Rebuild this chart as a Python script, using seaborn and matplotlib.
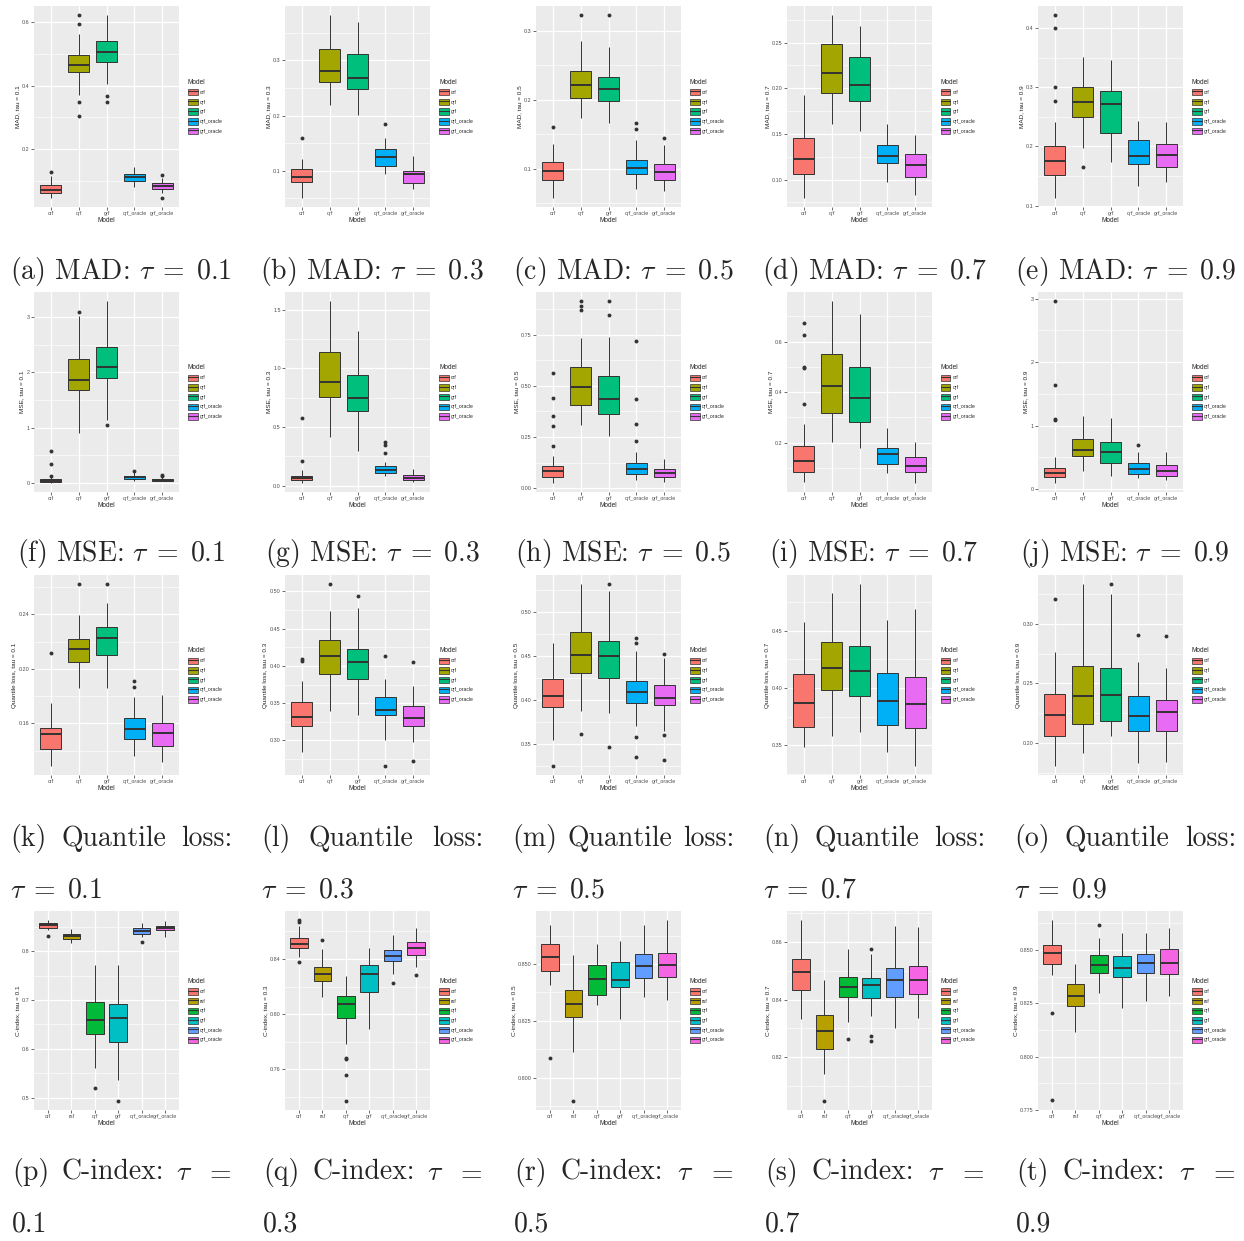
import matplotlib
matplotlib.use('Agg')
import numpy as np
import pandas as pd
import matplotlib.pyplot as plt
import seaborn as sns
from matplotlib.patches import Patch
from matplotlib.lines import Line2D
from matplotlib.ticker import FixedLocator

# Models and ggplot hue colours
MODELS_5 = ['crf', 'qrf', 'grf', 'qrf_oracle', 'grf_oracle']
MODELS_6 = ['crf', 'rsf', 'qrf', 'grf', 'qrf_oracle', 'grf_oracle']
PAL_5 = ['#F8766D', '#A3A500', '#00BF7D', '#00B0F6', '#E76BF3']
PAL_6 = ['#F8766D', '#B79F00', '#00BA38', '#00BFC4', '#619CFF', '#F564E3']
TAUS = ['0.1', '0.3', '0.5', '0.7', '0.9']

# Box summaries: [whisker low, q1, median, q3, whisker high] per model
mad_01 = [[0.047, 0.062, 0.073, 0.088, 0.115], [0.372, 0.443, 0.465, 0.495, 0.563], [0.404, 0.475, 0.507, 0.540, 0.622],
          [0.081, 0.099, 0.112, 0.123, 0.144], [0.062, 0.075, 0.083, 0.093, 0.108]]
mad_03 = [[0.051, 0.0795, 0.088, 0.103, 0.121], [0.219, 0.260, 0.281, 0.320, 0.382], [0.202, 0.249, 0.269, 0.311, 0.370],
          [0.094, 0.108, 0.125, 0.139, 0.159], [0.067, 0.078, 0.0945, 0.100, 0.127]]
mad_05 = [[0.0575, 0.0836, 0.097, 0.110, 0.136], [0.174, 0.2025, 0.222, 0.2415, 0.2855], [0.166, 0.1976, 0.2155, 0.2333, 0.277],
          [0.0705, 0.0928, 0.1005, 0.1126, 0.1415], [0.067, 0.084, 0.0947, 0.1063, 0.135]]
mad_07 = [[0.080, 0.1066, 0.123, 0.1453, 0.1927], [0.161, 0.195, 0.217, 0.248, 0.280], [0.153, 0.1858, 0.2036, 0.2347, 0.268],
          [0.0974, 0.1186, 0.1255, 0.138, 0.1606], [0.083, 0.103, 0.116, 0.1285, 0.1485]]
mad_09 = [[0.113, 0.152, 0.176, 0.200, 0.242], [0.197, 0.249, 0.275, 0.300, 0.352], [0.174, 0.223, 0.271, 0.294, 0.346],
          [0.133, 0.171, 0.183, 0.211, 0.243], [0.140, 0.166, 0.185, 0.2045, 0.242]]
mad_01_out = [[0.127], [0.621, 0.595, 0.349, 0.306], [0.367, 0.349], [], [0.118, 0.048]]
mad_03_out = [[0.159], [], [], [0.185], []]
mad_05_out = [[0.160], [0.323], [0.323], [0.166, 0.158], [0.145]]
mad_07_out = [[], [], [], [], []]
mad_09_out = [[0.422, 0.400, 0.300, 0.276], [0.166], [], [], []]

mse_01 = [[0.0, 0.018, 0.042, 0.079, 0.10], [0.90, 1.69, 1.86, 2.24, 3.02], [1.13, 1.90, 2.105, 2.46, 3.29],
          [0.04, 0.073, 0.103, 0.133, 0.19], [0.03, 0.042, 0.06, 0.079, 0.115]]
mse_03 = [[0.023, 0.046, 0.069, 0.086, 0.132], [0.413, 0.76, 0.883, 1.14, 1.574], [0.293, 0.634, 0.751, 0.944, 1.316],
          [0.08, 0.106, 0.135, 0.169, 0.198], [0.029, 0.046, 0.069, 0.089, 0.138]]
mse_05 = [[0.025, 0.0525, 0.084, 0.110, 0.159], [0.307, 0.407, 0.4926, 0.593, 0.736], [0.253, 0.3645, 0.435, 0.548, 0.742],
          [0.039, 0.0706, 0.092, 0.123, 0.176], [0.031, 0.0558, 0.072, 0.0936, 0.143]]
mse_07 = [[0.045, 0.086, 0.1285, 0.1854, 0.2755], [0.2026, 0.319, 0.4225, 0.551, 0.760], [0.181, 0.283, 0.376, 0.498, 0.71],
          [0.081, 0.115, 0.1536, 0.181, 0.2596], [0.041, 0.0848, 0.106, 0.1417, 0.204]]
mse_09 = [[0.10, 0.194, 0.263, 0.342, 0.51], [0.289, 0.525, 0.61, 0.793, 1.15], [0.21, 0.42, 0.589, 0.736, 1.124],
          [0.184, 0.236, 0.32, 0.42, 0.589], [0.147, 0.215, 0.294, 0.384, 0.589]]
mse_01_out = [[0.57, 0.35, 0.12], [3.10], [1.05], [0.22], [0.15, 0.13]]
mse_03_out = [[0.576, 0.209], [], [], [0.275, 0.347, 0.37], []]
mse_05_out = [[0.563, 0.44, 0.353, 0.302, 0.204], [0.916, 0.89, 0.87], [0.916, 0.846], [0.722, 0.435, 0.312, 0.228], []]
mse_07_out = [[0.674, 0.624, 0.5, 0.494, 0.352], [], [], [], []]
mse_09_out = [[2.96, 1.634, 1.109, 1.088], [], [], [0.70], []]

ql_01 = [[0.1288, 0.141, 0.1524, 0.1568, 0.1751], [0.1861, 0.2049, 0.2149, 0.2222, 0.2395], [0.1863, 0.2102, 0.2227, 0.2305, 0.2483],
         [0.1363, 0.1485, 0.1559, 0.1637, 0.1795], [0.1317, 0.1432, 0.1527, 0.16, 0.181]]
ql_03 = [[0.284, 0.319, 0.332, 0.352, 0.38], [0.34, 0.3898, 0.4129, 0.4347, 0.4742], [0.3338, 0.3818, 0.4053, 0.4231, 0.4778],
         [0.30, 0.3338, 0.3409, 0.3587, 0.3831], [0.2973, 0.3187, 0.3307, 0.3467, 0.3729]]
ql_05 = [[0.3545, 0.3921, 0.4041, 0.4233, 0.4643], [0.3872, 0.4308, 0.4511, 0.4771, 0.5312], [0.3846, 0.4252, 0.4492, 0.4665, 0.5229],
         [0.3707, 0.397, 0.4094, 0.4218, 0.4556], [0.3647, 0.3947, 0.4026, 0.4173, 0.4477]]
ql_07 = [[0.3483, 0.3657, 0.3871, 0.4123, 0.4575], [0.3584, 0.3987, 0.4172, 0.4399, 0.4833], [0.3616, 0.3929, 0.4152, 0.437, 0.4909],
         [0.3442, 0.3674, 0.3891, 0.4135, 0.4599], [0.332, 0.3654, 0.3859, 0.4094, 0.4691]]
ql_09 = [[0.1808, 0.2061, 0.2237, 0.2412, 0.276], [0.1919, 0.2156, 0.2396, 0.2643, 0.3334], [0.2061, 0.2187, 0.2407, 0.2632, 0.3251],
         [0.183, 0.21, 0.2231, 0.2398, 0.2677], [0.1838, 0.21, 0.2262, 0.2362, 0.2627]]
ql_01_out = [[0.2117], [0.2622], [0.2622], [0.191, 0.1866], []]
ql_03_out = [[0.409, 0.407], [0.5098], [0.4942], [0.4129, 0.2658], [0.4049, 0.272]]
ql_05_out = [[0.3252], [0.3609], [0.5312, 0.3466], [0.47, 0.4639, 0.3575, 0.335], [0.4523, 0.3602, 0.332]]
ql_07_out = [[], [], [], [], []]
ql_09_out = [[0.3206], [], [0.3334], [0.2903], [0.29]]

ci_01 = [[0.8425, 0.8466, 0.8527, 0.8575, 0.8637], [0.8158, 0.8253, 0.8308, 0.8356, 0.8459], [0.5616, 0.6301, 0.6596, 0.6952, 0.7712],
         [0.537, 0.613, 0.6637, 0.6911, 0.7712], [0.8288, 0.8356, 0.8411, 0.8473, 0.8575], [0.8288, 0.8425, 0.8473, 0.8521, 0.8616]]
ci_03 = [[0.8414, 0.848, 0.8511, 0.8552, 0.8636], [0.8125, 0.8239, 0.8292, 0.8342, 0.847], [0.7781, 0.7969, 0.807, 0.813, 0.8275],
         [0.7892, 0.8161, 0.8292, 0.8359, 0.8482], [0.8294, 0.8386, 0.8424, 0.8467, 0.8576], [0.8342, 0.8431, 0.8482, 0.8525, 0.8627]]
ci_05 = [[0.8409, 0.8471, 0.8529, 0.8588, 0.8671], [0.8112, 0.8265, 0.8324, 0.8384, 0.854], [0.8318, 0.8363, 0.8435, 0.8497, 0.8588],
         [0.826, 0.8397, 0.8429, 0.8509, 0.86], [0.8357, 0.8438, 0.849, 0.8544, 0.8674], [0.8343, 0.8444, 0.8497, 0.8549, 0.8694]]
ci_07 = [[0.8334, 0.8434, 0.8495, 0.8542, 0.8677], [0.8143, 0.8227, 0.8291, 0.8347, 0.8469], [0.8323, 0.841, 0.8445, 0.8479, 0.8576],
         [0.8342, 0.8407, 0.8451, 0.8476, 0.856], [0.8301, 0.841, 0.8467, 0.851, 0.8656], [0.8338, 0.842, 0.847, 0.8517, 0.8652]]
ci_09 = [[0.8383, 0.8433, 0.8486, 0.8523, 0.8641], [0.8116, 0.8236, 0.8286, 0.8341, 0.8434], [0.8297, 0.8392, 0.843, 0.8475, 0.8556],
         [0.823, 0.8372, 0.8414, 0.8472, 0.8581], [0.8263, 0.8392, 0.8439, 0.8483, 0.8581], [0.8286, 0.8386, 0.8439, 0.8506, 0.8605]]
ci_01_out = [[0.8315], [], [0.5205], [0.4932], [0.8185], []]
ci_03_out = [[0.8682, 0.8667, 0.8376], [0.8537], [0.7684, 0.7675, 0.7559, 0.7371], [], [0.8229], [0.8287]]
ci_05_out = [[0.8087], [0.7897], [], [], [], []]
ci_07_out = [[], [0.8048], [0.8264], [0.8578, 0.8273, 0.8257], [], []]
ci_09_out = [[0.8205, 0.7795], [], [0.8619], [], [], []]

# y tick labels per panel
mad_ticks = [['0.2', '0.4', '0.6'], ['0.1', '0.2', '0.3'], ['0.1', '0.2', '0.3'],
             ['0.10', '0.15', '0.20', '0.25'], ['0.1', '0.2', '0.3', '0.4']]
mse_ticks = [['0', '1', '2', '3'], ['0.0', '0.5', '1.0', '1.5'], ['0.00', '0.25', '0.50', '0.75'],
             ['0.2', '0.4', '0.6'], ['0', '1', '2', '3']]
ql_ticks = [['0.16', '0.20', '0.24'], ['0.30', '0.35', '0.40', '0.45', '0.50'], ['0.35', '0.40', '0.45', '0.50'],
            ['0.35', '0.40', '0.45'], ['0.20', '0.25', '0.30']]
ci_ticks = [['0.5', '0.6', '0.7', '0.8'], ['0.76', '0.80', '0.84'], ['0.800', '0.825', '0.850'],
            ['0.82', '0.84', '0.86'], ['0.775', '0.800', '0.825', '0.850']]

ROWS = [
    ('MAD', MODELS_5, PAL_5, [mad_01, mad_03, mad_05, mad_07, mad_09],
     [mad_01_out, mad_03_out, mad_05_out, mad_07_out, mad_09_out], mad_ticks),
    ('MSE', MODELS_5, PAL_5, [mse_01, mse_03, mse_05, mse_07, mse_09],
     [mse_01_out, mse_03_out, mse_05_out, mse_07_out, mse_09_out], mse_ticks),
    ('Quantile loss', MODELS_5, PAL_5, [ql_01, ql_03, ql_05, ql_07, ql_09],
     [ql_01_out, ql_03_out, ql_05_out, ql_07_out, ql_09_out], ql_ticks),
    ('C-index', MODELS_6, PAL_6, [ci_01, ci_03, ci_05, ci_07, ci_09],
     [ci_01_out, ci_03_out, ci_05_out, ci_07_out, ci_09_out], ci_ticks),
]

# layout (pixels)
W, H = 1244, 1241
COL_OFF = [0, 251, 502, 753, 1004]
ROW_Y = [(6, 207), (292, 492), (575, 775), (911, 1110)]
DARK = '#333333'
CAP_SIZE = 20

sns.set_theme(style='darkgrid', rc={'axes.facecolor': '#EBEBEB', 'grid.color': 'white',
                                    'axes.edgecolor': '#EBEBEB'})
plt.rcParams['font.family'] = ['Liberation Sans', 'DejaVu Sans']
plt.rcParams['mathtext.fontset'] = 'cm'

fig = plt.figure(figsize=(W / 100, H / 100), dpi=100)


def expand(models, stats):
    # turn each 5-number summary into a sample whose quartiles are exactly those values
    rows = []
    for m, (lo, q1, med, q3, hi) in zip(models, stats):
        vals = [lo] + [q1] * 20 + [med] * 20 + [q3] * 20 + [hi]
        rows += [(m, v) for v in vals]
    return pd.DataFrame(rows, columns=['Model', 'value'])


def draw_panel(ax, models, colors, stats, fliers, ticks, ylabel):
    pal = dict(zip(models, colors))
    df = expand(models, stats)
    sns.boxplot(data=df, x='Model', y='value', hue='Model', order=models, hue_order=models,
                palette=pal, whis=(0, 100), showfliers=False, showcaps=False, width=0.75,
                linecolor=DARK, linewidth=0.7, medianprops=dict(linewidth=1.4),
                saturation=1, legend=False, ax=ax)
    out = pd.DataFrame([(m, v) for m, vs in zip(models, fliers) for v in vs], columns=['Model', 'value'])
    if len(out):
        sns.stripplot(data=out, x='Model', y='value', order=models, jitter=False,
                      color=DARK, size=2.8, linewidth=0, ax=ax)

    allv = [v for s in stats for v in s] + [v for f in fliers for v in f]
    lo, hi = min(allv), max(allv)
    pad = 0.05 * (hi - lo)
    ax.set_xlim(-0.6, len(models) - 0.4)
    ax.set_ylim(lo - pad, hi + pad)
    tv = [float(t) for t in ticks]
    ax.set_yticks(tv, ticks)
    step = tv[1] - tv[0]
    minors = [t - step / 2 for t in tv] + [tv[-1] + step / 2]
    ax.yaxis.set_minor_locator(FixedLocator([m for m in minors if lo - pad < m < hi + pad]))
    ax.grid(which='major', color='white', linewidth=0.9)
    ax.yaxis.grid(which='minor', color='white', linewidth=0.45)
    ax.xaxis.grid(True, which='major', color='white', linewidth=0.9)
    ax.set_axisbelow(True)
    for s in ax.spines.values():
        s.set_visible(False)
    ax.tick_params(which='major', length=2, width=0.5, color=DARK, labelsize=3.9,
                   labelcolor='#4D4D4D', pad=1, left=True, bottom=True)
    ax.tick_params(which='minor', length=0)
    ax.set_xlabel('Model', fontsize=4.7, labelpad=0.5)
    ax.set_ylabel(ylabel, fontsize=4.6, labelpad=1.5)

    handles = [(Patch(facecolor=c, edgecolor=DARK, linewidth=0.5), Line2D([], [], color=DARK, linewidth=0.8))
               for c in colors]
    ax.legend(handles, models, title='Model', loc='center left', bbox_to_anchor=(1 + 9 / 145, 0.5),
              frameon=False, fontsize=3.6, title_fontsize=4.7, handlelength=1.9, handleheight=1.6,
              labelspacing=0.65, handletextpad=0.4, borderpad=0, borderaxespad=0, alignment='left')


def put_justified(words, x0, x1, y):
    arts = [fig.text(0, 1 - y / H, w, fontsize=CAP_SIZE, family='cmr10', va='baseline') for w in words]
    r = fig.canvas.get_renderer()
    widths = [a.get_window_extent(r).width for a in arts]
    gap = (x1 - x0 - sum(widths)) / (len(arts) - 1)
    x = x0
    for a, w in zip(arts, widths):
        a.set_x(x / W)
        x += w + gap


letters = 'abcdefghijklmnopqrst'
for r, (metric, models, colors, stats_row, fliers_row, ticks_row) in enumerate(ROWS):
    top, bottom = ROW_Y[r]
    for c in range(5):
        left = COL_OFF[c] + 34
        ax = fig.add_axes([left / W, 1 - bottom / H, 145 / W, (bottom - top) / H])
        draw_panel(ax, models, colors, stats_row[c], fliers_row[c], ticks_row[c],
                   f'{metric}, tau = {TAUS[c]}')

        # sub-captions
        letter = letters[r * 5 + c]
        x0, x1 = COL_OFF[c] + 10, COL_OFF[c] + 232
        if r < 2:
            base = [279, 561][r]
            fig.text((x0 + x1) / 2 / W, 1 - base / H, f'({letter}) {metric}: $\\tau\\;=\\;{TAUS[c]}$',
                     fontsize=CAP_SIZE, family='cmr10', ha='center', va='baseline')
        elif r == 2:
            put_justified([f'({letter})', 'Quantile', 'loss:'], x0, x1, 846)
            fig.text(x0 / W, 1 - 897 / H, f'$\\tau\\;=\\;{TAUS[c]}$', fontsize=CAP_SIZE,
                     family='cmr10', va='baseline')
        else:
            put_justified([f'({letter})', 'C-index:', '$\\tau$', '$=$'], x0 + 2, x1, 1180)
            fig.text((x0 + 2) / W, 1 - 1231 / H, TAUS[c], fontsize=CAP_SIZE,
                     family='cmr10', va='baseline')

fig.savefig('out.png', dpi=100)
